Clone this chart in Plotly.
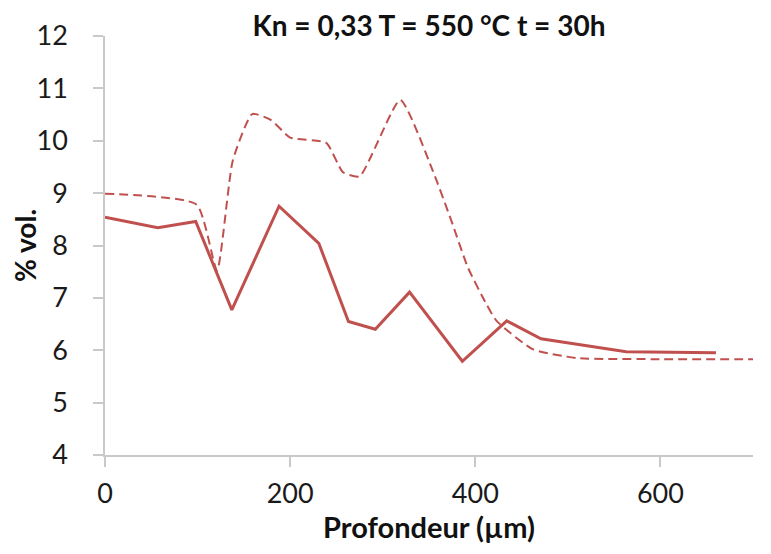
import plotly.graph_objects as go

# Solid series
depth_solid = [0, 57, 98, 137, 188, 231, 263, 292, 329, 386, 434, 471, 563, 660]
vol_solid = [8.54, 8.34, 8.46, 6.77, 8.75, 8.04, 6.55, 6.40, 7.11, 5.79, 6.56, 6.22, 5.97, 5.95]

# Dashed series
depth_dash = [0, 99, 121, 138, 159, 179, 200, 239, 257, 275, 319, 354, 374, 392, 412, 423, 462, 510, 600, 700]
vol_dash = [8.99, 8.78, 7.52, 9.62, 10.51, 10.40, 10.06, 9.96, 9.40, 9.32, 10.78, 9.43, 8.48, 7.58, 6.88, 6.56, 6.02, 5.85, 5.83, 5.83]

x_ticks = [0, 200, 400, 600]
y_ticks = [4, 5, 6, 7, 8, 9, 10, 11, 12]

RED = "#C0504D"
AXIS = "#C9C9C9"
FONT = "Lato"

# the page body adds an 8px offset; the figure is sized to fill the rest
W, H = 763, 546

fig = go.Figure()
fig.add_trace(go.Scatter(x=depth_dash, y=vol_dash, mode="lines",
                         line=dict(color=RED, width=2, dash="9px,5px", shape="spline", smoothing=0.5),
                         showlegend=False))
fig.add_trace(go.Scatter(x=depth_solid, y=vol_solid, mode="lines",
                         line=dict(color=RED, width=3),
                         showlegend=False))

fig.update_layout(
    width=W, height=H,
    margin=dict(l=97, r=17.5, t=28, b=99, autoexpand=False),
    paper_bgcolor="white", plot_bgcolor="white",
    font=dict(family=FONT, color="#1a1a1a"),
    title=dict(text="<b>Kn = 0,33 T = 550 °C t = 30h</b>", x=421/W, xanchor="center",
               y=1 - 18/H, yanchor="middle", yref="container",
               font=dict(family=FONT, size=28, color="#111111")),
    xaxis=dict(range=[0, 700], tickvals=x_ticks, showgrid=False, zeroline=False,
               automargin=False,
               showline=True, linecolor=AXIS, linewidth=1.5,
               ticks="outside", ticklen=10, tickcolor=AXIS, tickwidth=1.5,
               tickfont=dict(family=FONT, size=27, color="#1a1a1a"),
               ticklabelstandoff=4,
               title=dict(text="<b>Profondeur (µm)</b>", standoff=7,
                          font=dict(family=FONT, size=29, color="#111111"))),
    yaxis=dict(range=[4, 12], tickvals=y_ticks, showgrid=False, zeroline=False,
               automargin=False,
               showline=True, linecolor=AXIS, linewidth=1.5,
               ticks="outside", ticklen=10, tickcolor=AXIS, tickwidth=1.5,
               tickfont=dict(family=FONT, size=27, color="#1a1a1a"),
               ticklabelstandoff=20,
               title=dict(text="<b>% vol.</b>", standoff=3,
                          font=dict(family=FONT, size=28, color="#111111"))),
)

fig.write_html("out.html")
